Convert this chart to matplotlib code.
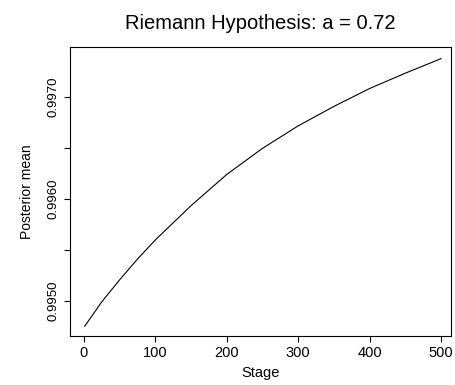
import matplotlib
matplotlib.use("Agg")
import matplotlib.pyplot as plt

stages = [1, 25, 50, 75, 100, 150, 200, 250, 300, 350, 400, 450, 500]
post_mean = [0.994756, 0.994995, 0.995210, 0.995413, 0.995600, 0.995935, 0.996240,
             0.996495, 0.996715, 0.996905, 0.997080, 0.997230, 0.997372]
xticks = [0, 100, 200, 300, 400, 500]
yticks = [0.9950, 0.9955, 0.9960, 0.9965, 0.9970]
ylabels = ["0.9950", "", "0.9960", "", "0.9970"]

plt.rcParams['font.family'] = ['Liberation Sans', 'DejaVu Sans']
fig = plt.figure(figsize=(4.56, 3.85), dpi=100)
ax = fig.add_axes([70/456, 1-336/385, (451-70)/456, (336-47)/385])
ax.plot(stages, post_mean, color='black', lw=0.8)
ax.set_xlim(-19.6, 514)
ax.set_ylim(0.99466, 0.997486)
ax.set_xticks(xticks)
ax.set_yticks(yticks)
ax.set_yticklabels(ylabels, rotation=90, va='center')
ax.tick_params(direction='out', length=4.5, width=0.8, pad=3)
ax.tick_params(axis='x', labelsize=10.5)
ax.tick_params(axis='y', labelsize=9.5)
for s in ax.spines.values():
    s.set_linewidth(0.8)
ax.set_xlabel("Stage", fontsize=10.5, labelpad=4)
ax.set_ylabel("Posterior mean", fontsize=10, labelpad=10)
ax.set_title("Riemann Hypothesis: a = 0.72", fontsize=14.5, pad=13)
fig.savefig("out.png", dpi=100)
